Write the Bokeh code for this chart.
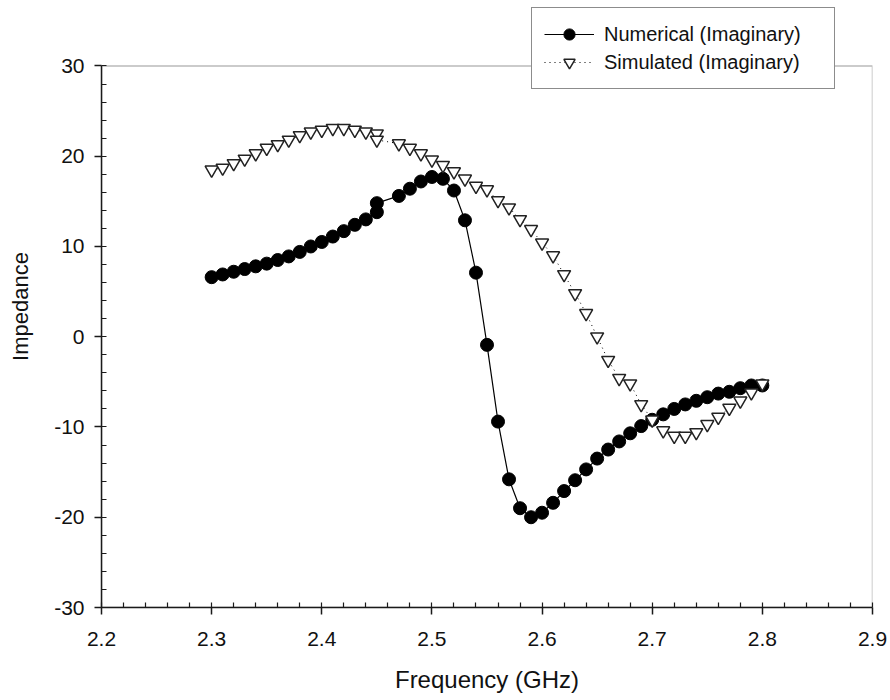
from bokeh.plotting import figure
from bokeh.models import Range1d, FixedTicker, Legend, LegendItem, BoxAnnotation
from bokeh.embed import file_html
from bokeh.resources import INLINE

# ---- data ----
num_freq = [2.30, 2.31, 2.32, 2.33, 2.34, 2.35, 2.36, 2.37, 2.38, 2.39, 2.40,
            2.41, 2.42, 2.43, 2.44, 2.45, 2.45, 2.47, 2.48, 2.49, 2.50, 2.51,
            2.52, 2.53, 2.54, 2.55, 2.56, 2.57, 2.58, 2.59, 2.60, 2.61, 2.62,
            2.63, 2.64, 2.65, 2.66, 2.67, 2.68, 2.69, 2.70, 2.71, 2.72, 2.73,
            2.74, 2.75, 2.76, 2.77, 2.78, 2.79, 2.80]
num_imag = [6.6, 6.9, 7.2, 7.5, 7.8, 8.1, 8.5, 8.9, 9.4, 10.0, 10.5,
            11.1, 11.7, 12.4, 13.0, 13.8, 14.8, 15.6, 16.4, 17.2, 17.7, 17.5,
            16.2, 12.9, 7.1, -0.9, -9.4, -15.8, -19.0, -20.0, -19.5, -18.4, -17.1,
            -15.9, -14.7, -13.5, -12.5, -11.6, -10.7, -9.9, -9.2, -8.6, -8.0, -7.5,
            -7.1, -6.7, -6.3, -6.1, -5.7, -5.4, -5.4]

sim_freq = [2.30, 2.31, 2.32, 2.33, 2.34, 2.35, 2.36, 2.37, 2.38, 2.39, 2.40,
            2.41, 2.42, 2.43, 2.44, 2.45, 2.45, 2.47, 2.48, 2.49, 2.50, 2.51,
            2.52, 2.53, 2.54, 2.55, 2.56, 2.57, 2.58, 2.59, 2.60, 2.61, 2.62,
            2.63, 2.64, 2.65, 2.66, 2.67, 2.68, 2.69, 2.70, 2.71, 2.72, 2.73,
            2.74, 2.75, 2.76, 2.77, 2.78, 2.79, 2.80]
sim_imag = [18.5, 18.7, 19.2, 19.7, 20.3, 20.9, 21.3, 21.8, 22.3, 22.7, 22.9,
            23.1, 23.1, 22.9, 22.7, 22.5, 21.8, 21.4, 20.9, 20.3, 19.6, 19.0,
            18.3, 17.5, 16.7, 16.3, 15.1, 14.3, 13.0, 11.9, 10.4, 9.0, 6.9,
            4.8, 2.6, 0.0, -2.6, -4.6, -5.2, -7.5, -9.2, -10.4, -11.0, -11.0,
            -10.6, -9.7, -8.9, -7.9, -7.1, -6.2, -5.2]

x_ticks = [2.2, 2.3, 2.4, 2.5, 2.6, 2.7, 2.8, 2.9]
x_tick_labels = ["2.2", "2.3", "2.4", "2.5", "2.6", "2.7", "2.8", "2.9"]
y_ticks = [-30, -20, -10, 0, 10, 20, 30]
y_tick_labels = ["-30", "-20", "-10", "0", "10", "20", "30"]

series_names = ["Numerical (Imaginary)", "Simulated (Imaginary)"]
x_label = "Frequency (GHz)"
y_label = "Impedance"

FONT = "Liberation Sans"
INK = "#1a1a1a"

X0, X1 = 2.2, 2.9
Y0, Y1 = -30, 30
Y_HEADROOM = 36.7   # space above the axes box, where the legend sits

p = figure(width=890, height=700, output_backend="svg", toolbar_location=None,
           x_range=Range1d(X0, X1), y_range=Range1d(Y0, Y_HEADROOM),
           min_border_left=101, min_border_right=18, min_border_top=5,
           min_border_bottom=93)
p.title.visible = False
p.grid.visible = False
p.background_fill_color = "white"
p.border_fill_color = "white"
p.outline_line_color = None

# axes box (-30..30 x 2.2..2.9)
frame_box = BoxAnnotation(left=X0, right=X1, bottom=Y0, top=Y1,
                          fill_alpha=0, line_color=INK, line_width=1.5)
p.add_layout(frame_box)

# minor ticks: 4 between majors
x_minor = [round(2.2 + i * 0.02, 2) for i in range(36)]
y_minor = [-30 + i * 2 for i in range(31)]
p.xaxis.ticker = FixedTicker(ticks=x_ticks, minor_ticks=x_minor)
p.yaxis.ticker = FixedTicker(ticks=y_ticks, minor_ticks=y_minor)
p.xaxis.major_label_overrides = {t: l for t, l in zip(x_ticks, x_tick_labels)}
p.yaxis.major_label_overrides = {t: l for t, l in zip(y_ticks, y_tick_labels)}
p.yaxis.bounds = (Y0, Y1)

for ax in (p.xaxis[0], p.yaxis[0]):
    ax.axis_line_color = INK
    ax.axis_line_width = 1.5
    ax.major_tick_line_color = INK
    ax.major_tick_line_width = 1.5
    ax.minor_tick_line_color = INK
    ax.minor_tick_line_width = 1.2
    ax.major_tick_in = 0
    ax.major_tick_out = 7
    ax.minor_tick_in = 5
    ax.minor_tick_out = 0
    ax.major_label_text_font = FONT
    ax.major_label_text_font_size = "21px"
    ax.major_label_text_color = "#111111"
    ax.axis_label_text_font = FONT
    ax.axis_label_text_font_style = "normal"
    ax.axis_label_text_color = "#111111"

p.xaxis.axis_label = x_label
p.yaxis.axis_label = y_label
p.xaxis.axis_label_text_font_size = "24px"
p.yaxis.axis_label_text_font_size = "22px"
p.xaxis.major_label_standoff = 17
p.yaxis.major_label_standoff = 10
p.xaxis.axis_label_standoff = 17
p.yaxis.axis_label_standoff = 18

# Numerical: solid line with filled circles
n_line = p.line(num_freq, num_imag, line_color="black", line_width=1.2)
n_pts = p.scatter(num_freq, num_imag, marker="circle", size=13,
                  fill_color="black", line_color="black", line_width=1)

# Simulated: dotted line with open inverted triangles
s_line = p.line(sim_freq, sim_imag, line_color="black", line_width=1,
                line_dash="1 4")
s_pts = p.scatter(sim_freq, sim_imag, marker="inverted_triangle", size=13,
                  fill_color="white", line_color="#222222", line_width=1.5)

legend = Legend(items=[
    LegendItem(label=series_names[0], renderers=[n_line, n_pts]),
    LegendItem(label=series_names[1], renderers=[s_line, s_pts]),
], location=(430, 518))
legend.label_text_font = FONT
legend.label_text_font_size = "20px"
legend.label_text_color = "#111111"
legend.glyph_width = 50
legend.glyph_height = 28
legend.label_height = 23
legend.label_width = 218
legend.label_standoff = 10
legend.spacing = 0
legend.padding = 12
legend.margin = 0
legend.border_line_color = INK
legend.border_line_width = 1.5
legend.background_fill_color = "white"
legend.background_fill_alpha = 1.0
p.add_layout(legend, "center")

open("out.html", "w").write(file_html(p, INLINE))
